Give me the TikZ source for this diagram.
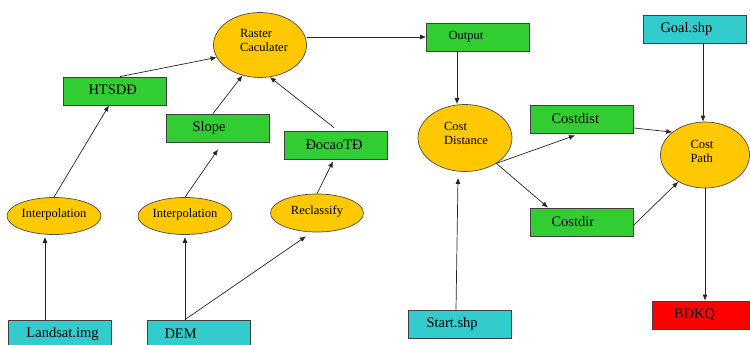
\documentclass[tikz,border=0pt]{standalone}
\usepackage{fontspec}
\setmainfont{Liberation Serif}
\newfontfamily\diagfont{Liberation Serif}
\usetikzlibrary{shapes.geometric,arrows.meta}
\definecolor{gold}{RGB}{255,200,0}
\definecolor{lgreen}{RGB}{50,205,50}
\definecolor{tcyan}{RGB}{51,204,204}
\begin{document}
\begin{tikzpicture}[x=1pt,y=-1pt,
  box/.style={draw=black!75, line width=0.8pt, rectangle, minimum width=103pt, minimum height=28pt,
    inner sep=0pt, text width=103pt, align=left, font=\diagfont\fontsize{14.5}{16}\selectfont},
  oval/.style={draw=black!70, line width=0.7pt, fill=gold, ellipse, inner sep=0pt},
  otext/.style={inner sep=0pt, align=left, font=\diagfont\fontsize{12.5}{14}\selectfont},
  arr/.style={-{Latex[length=6pt,width=5pt]}, line width=0.7pt, draw=black!85}]
\useasboundingbox (0,0) rectangle (750,345);
\fill[white] (0,0) rectangle (750,345);

% nodes
\node[oval, minimum width=93pt, minimum height=65pt,
  label={[otext, xshift=4pt, yshift=5pt]center:Raster\\Caculater}] (rc) at (260,45) {};
\node[box, fill=lgreen] (ht) at (115,91) {\raisebox{2pt}{\hspace*{25pt}HTSDĐ}};
\node[box, fill=lgreen] (sl) at (218,128) {\hspace*{26pt}Slope};
\node[box, fill=lgreen] (dc) at (336,145) {\hspace*{21pt}ĐocaoTĐ};
\node[box, fill=lgreen, font=\diagfont\fontsize{12.5}{14}\selectfont] (out) at (478,37) {\hspace*{22pt}Output};
\node[box, fill=tcyan] (goal) at (695,29) {\hspace*{17pt}Goal.shp};
\node[oval, minimum width=94pt, minimum height=67pt,
  label={[otext, xshift=1pt, yshift=5pt]center:Cost\\Distance}] (cd) at (465,138) {};
\node[box, fill=lgreen] (cdist) at (582,119) {\hspace*{21pt}Costdist};
\node[oval, minimum width=89pt, minimum height=66pt,
  label={[otext, xshift=-3pt, yshift=4pt]center:Cost\\Path}] (cp) at (705,155) {};
\node[box, fill=lgreen] (cdir) at (582,222) {\hspace*{21pt}Costdir};
\node[box, fill=tcyan] (start) at (460,324) {\hspace*{18pt}Start.shp};
\node[box, fill=red, minimum width=98pt, text width=98pt] (bdkq) at (701,315) {\hspace*{22pt}BĐKQ};
\node[oval, minimum width=94pt, minimum height=37pt,
  label={[otext, yshift=2pt]center:Interpolation}] (ip1) at (54,216) {};
\node[oval, minimum width=94pt, minimum height=37pt,
  label={[otext, yshift=2pt]center:Interpolation}] (ip2) at (185,216) {};
\node[oval, minimum width=93pt, minimum height=38pt,
  label={[otext, yshift=2pt]center:Reclassify}] (rec) at (317,213) {};
\node[box, fill=tcyan] (land) at (60,334) {\hspace*{18pt}Landsat.img};
\node[box, fill=tcyan] (dem) at (199,334) {\hspace*{17pt}DEM};

% connectors
\draw[arr] ([xshift=5pt]ht.north) -- (rc.196);
\draw[arr] ([xshift=-5pt]sl.north) -- (rc.240);
\draw[arr] ([xshift=-2pt,yshift=3pt]dc.north) -- (rc.287);
\draw[arr] (rc.east |- out.west) -- (out.west);
\draw[arr] ([xshift=-21pt]out.south) -- ([xshift=-8pt]cd.north);
\draw[arr] ([xshift=-4pt]start.north) -- ([xshift=-7pt,yshift=-6pt]cd.south);
\draw[arr] (cd.321) -- ([xshift=-7pt,yshift=-2pt]cdist.south);
\draw[arr] (cd.321) -- ([xshift=-34pt]cdir.north);
\draw[arr] ([yshift=-9pt]cdist.east) -- (cp.145);
\draw[arr] ([yshift=-3pt]cdir.east) -- (cp.225);
\draw[arr] ([xshift=8pt]goal.south) -- ([xshift=-2pt]cp.north);
\draw[arr] (cp.south) -- ([xshift=4pt]bdkq.north);
\draw[arr] (ip1.north) -- ([xshift=-6pt]ht.south);
\draw[arr] (ip2.north) -- ([yshift=-7pt]sl.south);
\draw[arr] (rec.north) -- ([xshift=-3pt,yshift=-2pt]dc.south);
\draw[arr] ([xshift=-15pt]land.north) -- ([xshift=-9pt,yshift=-2pt]ip1.south);
\draw[arr] ([xshift=-14pt]dem.north) -- ([yshift=-2pt]ip2.south);
\draw[arr] ([xshift=-14pt]dem.north) -- ([xshift=-11pt,yshift=-4pt]rec.south);
\end{tikzpicture}
\end{document}
